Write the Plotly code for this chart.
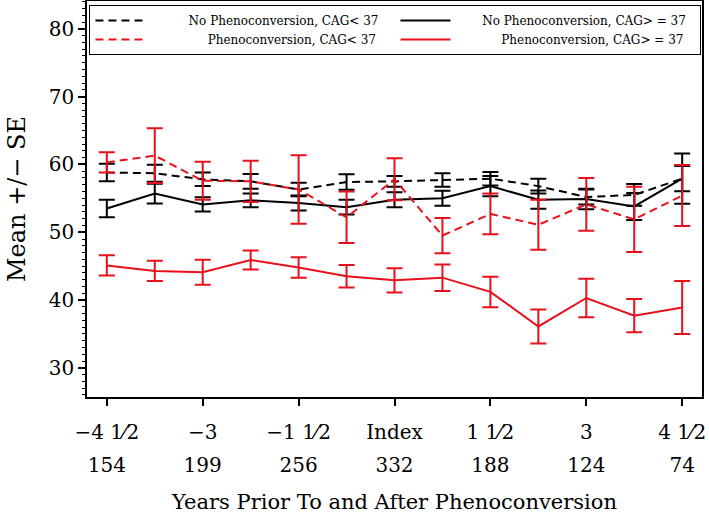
import plotly.graph_objects as go

# x positions (years relative to phenoconversion)
years = [-4.5, -3.75, -3, -2.25, -1.5, -0.75, 0, 0.75, 1.5, 2.25, 3, 3.75, 4.5]

tick_vals = [-4.5, -3, -1.5, 0, 1.5, 3, 4.5]
tick_top = ["\u22124 1\u20442", "\u22123", "\u22121 1\u20442", "Index", "1 1\u20442", "3", "4 1\u20442"]
tick_n = ["154", "199", "256", "332", "188", "124", "74"]

# No Phenoconversion, CAG<37 (black dashed)
nop_lt_mean = [58.8, 58.7, 57.8, 57.5, 56.3, 57.4, 57.5, 57.7, 57.9, 56.8, 55.2, 55.5, 57.9]
nop_lt_se = [1.3, 1.25, 1.0, 1.1, 1.0, 1.15, 0.8, 1.0, 1.0, 1.1, 1.1, 1.6, 1.85]

# No Phenoconversion, CAG>=37 (black solid)
nop_ge_mean = [53.5, 55.7, 54.1, 54.7, 54.3, 53.7, 54.8, 55.0, 56.8, 54.8, 54.9, 53.8, 57.9]
nop_ge_se = [1.3, 1.45, 1.05, 1.0, 1.1, 1.1, 1.1, 1.1, 1.5, 1.35, 1.5, 2.0, 3.7]

# Phenoconversion, CAG<37 (red dashed)
ph_lt_mean = [60.3, 61.3, 57.6, 57.5, 56.3, 52.2, 57.8, 49.5, 52.7, 51.1, 54.1, 51.9, 55.4]
ph_lt_se = [1.5, 4.05, 2.8, 3.05, 5.05, 3.8, 3.1, 2.6, 3.0, 3.7, 3.9, 4.8, 4.5]

# Phenoconversion, CAG>=37 (red solid)
ph_ge_mean = [45.1, 44.3, 44.1, 45.9, 44.8, 43.5, 42.9, 43.3, 41.2, 36.1, 40.3, 37.7, 38.9]
ph_ge_se = [1.5, 1.5, 1.85, 1.4, 1.5, 1.65, 1.8, 1.95, 2.25, 2.5, 2.85, 2.45, 3.9]

FONT = "DejaVu Serif"
NB = "\u00a0"

series = [
    ("No Phenoconversion, CAG< 37", nop_lt_mean, nop_lt_se, "black", "8px,5px", 10),
    ("No Phenoconversion, CAG> = 37", nop_ge_mean, nop_ge_se, "black", "solid", 7),
    ("Phenoconversion, CAG< 37", ph_lt_mean, ph_lt_se, "#e8101a", "8px,5px", 15),
    ("Phenoconversion, CAG> = 37", ph_ge_mean, ph_ge_se, "#e8101a", "solid", 12),
]

fig = go.Figure()
for name, m, se, col, dash, pad in series:
    fig.add_trace(go.Scatter(
        x=years, y=m, mode="lines", name=NB * pad + name,
        line=dict(color=col, width=2, dash=dash),
        error_y=dict(type="data", array=se, visible=True, color=col, thickness=2, width=8),
    ))

# invisible carrier trace so the second (count) axis row is drawn
fig.add_trace(go.Scatter(
    x=years, y=ph_ge_mean, xaxis="x2", mode="markers",
    marker=dict(opacity=0), showlegend=False, hoverinfo="skip",
))

fig.update_layout(
    width=709, height=514,
    margin=dict(l=87, r=7, t=1, b=117),
    paper_bgcolor="white", plot_bgcolor="white",
    font=dict(family=FONT, color="black", size=20),
    showlegend=True,
    legend=dict(
        orientation="h", x=0.004, y=0.99, xanchor="left", yanchor="top",
        bordercolor="black", borderwidth=1, bgcolor="white",
        font=dict(size=12, family=FONT), entrywidth=240, entrywidthmode="pixels",
        tracegroupgap=0, itemwidth=50,
    ),
    xaxis=dict(
        range=[-4.81, 4.81], tickmode="array", tickvals=tick_vals, ticktext=tick_top,
        ticks="outside", ticklen=7, tickwidth=1.5, tickcolor="black",
        showline=True, linecolor="black", linewidth=1.5, mirror=True,
        showgrid=False, zeroline=False, automargin=False,
        tickfont=dict(size=20), ticklabelstandoff=9,
        title=dict(text="Years Prior To and After Phenoconversion", font=dict(size=21), standoff=53),
    ),
    xaxis2=dict(
        overlaying="x", matches="x", side="bottom", anchor="y",
        range=[-4.81, 4.81], tickmode="array", tickvals=tick_vals, ticktext=tick_n,
        ticks="", showline=False, showgrid=False, zeroline=False, automargin=False,
        tickfont=dict(size=20), ticklabelstandoff=54,
    ),
    yaxis=dict(
        range=[25.7, 84.1], tickmode="array", tickvals=[30, 40, 50, 60, 70, 80],
        ticks="outside", ticklen=7, tickwidth=1.5, tickcolor="black",
        minor=dict(ticks="outside", ticklen=3, tickwidth=1, dtick=1, tick0=0, tickcolor="black"),
        showline=True, linecolor="black", linewidth=1.5, mirror=True,
        showgrid=False, zeroline=False, automargin=False,
        tickfont=dict(size=20),
        title=dict(text="Mean +/\u2212 SE", font=dict(size=24), standoff=16),
    ),
)

fig.write_html("out.html", config={"displayModeBar": False},
               post_script="document.body.style.margin='0';")
